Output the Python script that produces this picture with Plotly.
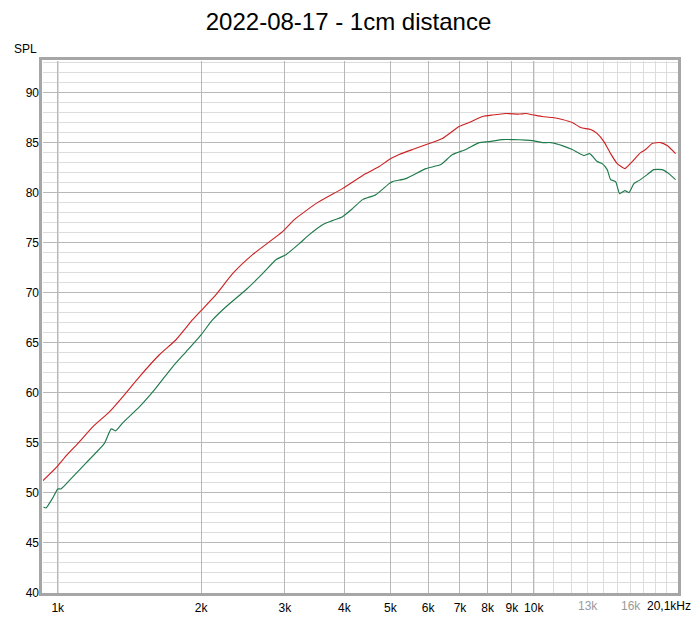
import math
import plotly.graph_objects as go

# ---------------- data ----------------
red_freq = [930, 1000, 1041, 1110, 1184, 1284, 1369, 1484, 1635, 1772, 1920, 2000,
            2150, 2330, 2566, 2967, 3140, 3487, 3965, 4440, 4735, 4970, 5216, 5563,
            6030, 6430, 6970, 7315, 7803, 8190, 8736, 9314, 9620, 10015, 10425,
            10940, 11482, 12050, 12553, 13174, 13600, 14046, 14508, 14980, 15548,
            16106, 16772, 17183, 17742, 18476, 19073, 19866]
red_spl = [51.2, 52.7, 53.7, 55.1, 56.6, 58.1, 59.6, 61.6, 63.8, 65.3, 67.3, 68.2,
           69.8, 71.9, 73.8, 76.1, 77.3, 78.9, 80.4, 81.9, 82.6, 83.3, 83.8, 84.3,
           84.9, 85.4, 86.6, 87.0, 87.6, 87.75, 87.9, 87.85, 87.9, 87.75, 87.6,
           87.5, 87.3, 87.0, 86.5, 86.3, 85.9, 85.1, 83.9, 82.9, 82.4,
           83.1, 84.0, 84.3, 84.9, 85.0, 84.7, 83.9]

green_freq = [933, 945, 976, 1000, 1016, 1075, 1147, 1253, 1295, 1322, 1369, 1484,
              1609, 1743, 1860, 2000, 2116, 2257, 2486, 2693, 2873, 3016, 3217,
              3376, 3600, 3778, 3965, 4161, 4368, 4660, 4970, 5050, 5387, 5934,
              6380, 6750, 7200, 7680, 8060, 8595, 9018, 9620, 9933, 10425, 10857,
              11482, 12050, 12755, 13110, 13600, 13930, 14272, 14508, 14862, 15153,
              15548, 15851, 16240, 16637, 17318, 17886, 18620, 19230, 19866]
green_spl = [48.6, 48.5, 49.5, 50.4, 50.4, 51.6, 53.0, 54.95, 56.4, 56.2, 57.0, 58.6,
             60.5, 62.6, 64.1, 65.8, 67.3, 68.6, 70.3, 71.9, 73.3, 73.8, 74.9,
             75.8, 76.8, 77.2, 77.6, 78.4, 79.3, 79.8, 80.9, 81.1, 81.4, 82.4,
             82.8, 83.8, 84.3, 85.0, 85.1, 85.3, 85.3, 85.25, 85.2, 85.0, 85.0,
             84.7, 84.3, 83.7, 83.9, 83.1, 82.9, 82.3, 81.3, 81.1, 79.9,
             80.2, 80.0, 80.9, 81.2, 81.8, 82.3, 82.3, 81.9, 81.3]

x_tick_vals = [1000, 2000, 3000, 4000, 5000, 6000, 7000, 8000, 9000, 10000]
x_tick_text = ["1k", "2k", "3k", "4k", "5k", "6k", "7k", "8k", "9k", "10k"]
x_minor_vals = [11000, 12000, 13000, 14000, 15000, 16000, 17000, 18000, 19000]
faint_tick_vals = [13000, 16000]
faint_tick_text = ["13k", "16k"]
end_tick_val = 20100
end_tick_text = "20,1kHz"
x_min, x_max = 931, 20100
y_min, y_max = 40, 93.15

FONT = "Liberation Sans, Arial, sans-serif"

fig = go.Figure()
fig.add_trace(go.Scatter(x=red_freq, y=red_spl, mode="lines",
                         line=dict(color="#cc2222", width=1.15, shape="spline", smoothing=0.5),
                         showlegend=False, hoverinfo="skip"))
fig.add_trace(go.Scatter(x=green_freq, y=green_spl, mode="lines",
                         line=dict(color="#1f7a4c", width=1.15, shape="spline", smoothing=0.5),
                         showlegend=False, hoverinfo="skip"))

shapes = []
for v in (1000, 10000):
    shapes.append(dict(type="line", xref="x", yref="paper", x0=v, x1=v, y0=0, y1=1,
                       line=dict(color="#7f7f7f", width=1), layer="between"))
# frame
shapes.append(dict(type="rect", xref="paper", yref="paper",
                   x0=-2.5 / 635, x1=1 + 1.5 / 635, y0=-1.5 / 532, y1=1 + 2.5 / 532,
                   line=dict(color="#a6a6a6", width=3), layer="above"))

annotations = []
for v, t in zip(faint_tick_vals, faint_tick_text):
    annotations.append(dict(x=math.log10(v), y=0, xref="x", yref="paper", text=t,
                            showarrow=False, xanchor="center", yanchor="middle", yshift=-13,
                            font=dict(family=FONT, size=12, color="#9a9a9a")))
annotations.append(dict(x=math.log10(end_tick_val), y=0, xref="x", yref="paper",
                        text=end_tick_text, showarrow=False, xanchor="right",
                        yanchor="middle", yshift=-13, xshift=15,
                        font=dict(family=FONT, size=12, color="#000000")))
annotations.append(dict(x=0, y=1, xref="paper", yref="paper", text="SPL",
                        showarrow=False, xanchor="right", yanchor="middle",
                        xshift=-4, yshift=12,
                        font=dict(family=FONT, size=12, color="#000000")))

# page has an 8px body margin, so the figure is offset by 8px right and down
fig.update_layout(
    width=700, height=619, autosize=False,
    margin=dict(l=35, r=30, t=53, b=34, pad=0),
    paper_bgcolor="white", plot_bgcolor="white",
    title=dict(text="2022-08-17 - 1cm distance", x=340.5 / 700, xref="container",
               xanchor="center", y=1 - 14 / 619, yref="container", yanchor="middle",
               font=dict(family=FONT, size=24, color="#000000")),
    xaxis=dict(type="log", range=[math.log10(x_min), math.log10(x_max)],
               tickvals=x_tick_vals, ticktext=x_tick_text, ticks="",
               ticklabelstandoff=6,
               showgrid=True, gridcolor="#b8b8b8", gridwidth=1,
               minor=dict(tickvals=x_minor_vals, showgrid=True, gridcolor="#dcdcdc", ticks=""),
               showline=False, zeroline=False,
               tickfont=dict(family=FONT, size=12, color="#000000")),
    yaxis=dict(range=[y_min, y_max], tick0=0, dtick=5, ticks="",
               ticklabelstandoff=3,
               showgrid=True, gridcolor="#b8b8b8", gridwidth=1,
               minor=dict(dtick=1, showgrid=True, gridcolor="#dcdcdc", ticks=""),
               showline=False, zeroline=False,
               tickfont=dict(family=FONT, size=12, color="#000000")),
    shapes=shapes, annotations=annotations,
)

fig.write_html("out.html")
